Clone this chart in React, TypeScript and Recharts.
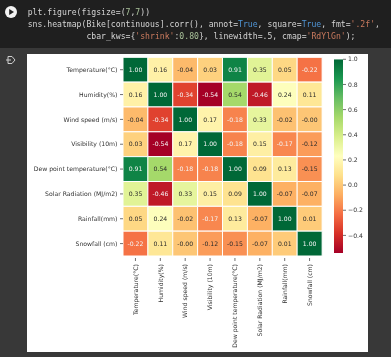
import React from 'react'
import { BarChart, Bar, Cell, XAxis, YAxis, LabelList } from 'recharts'

const labels = [
  'Temperature(°C)',
  'Humidity(%)',
  'Wind speed (m/s)',
  'Visibility (10m)',
  'Dew point temperature(°C)',
  'Solar Radiation (MJ/m2)',
  'Rainfall(mm)',
  'Snowfall (cm)',
]

// correlation rows, -0.004 prints as the "-0.00" of the picture
const temperature = [1.0, 0.16, -0.04, 0.03, 0.91, 0.35, 0.05, -0.22]
const humidity = [0.16, 1.0, -0.34, -0.54, 0.54, -0.46, 0.24, 0.11]
const windSpeed = [-0.04, -0.34, 1.0, 0.17, -0.18, 0.33, -0.02, -0.004]
const visibility = [0.03, -0.54, 0.17, 1.0, -0.18, 0.15, -0.17, -0.12]
const dewPoint = [0.91, 0.54, -0.18, -0.18, 1.0, 0.09, 0.13, -0.15]
const solar = [0.35, -0.46, 0.33, 0.15, 0.09, 1.0, -0.07, -0.07]
const rainfall = [0.05, 0.24, -0.02, -0.17, 0.13, -0.07, 1.0, 0.01]
const snowfall = [-0.22, 0.11, -0.004, -0.12, -0.15, -0.07, 0.01, 1.0]
const rows = [temperature, humidity, windSpeed, visibility, dewPoint, solar, rainfall, snowfall]

const rowTicks = [0.5, 1.5, 2.5, 3.5, 4.5, 5.5, 6.5, 7.5]
const cbarTicks = [1.0, 0.8, 0.6, 0.4, 0.2, 0.0, -0.2, -0.4]
const vMin = -0.54
const vMax = 1

const rdYlGn = ['#a50026', '#d73027', '#f46d43', '#fdae61', '#fee08b', '#ffffbf', '#d9ef8b', '#a6d96a', '#66bd63', '#1a9850', '#006837']

const hexToRgb = (hex: string) => [1, 3, 5].map((i) => parseInt(hex.slice(i, i + 2), 16))

const colorFor = (v: number) => {
  const t = Math.min(1, Math.max(0, (v - vMin) / (vMax - vMin))) * 10
  const i = Math.min(9, Math.floor(t))
  const a = hexToRgb(rdYlGn[i])
  const b = hexToRgb(rdYlGn[i + 1])
  const c = a.map((x, k) => Math.round(x + (b[k] - x) * (t - i)))
  return `rgb(${c.join(',')})`
}

const textFor = (v: number) => (v >= 0.8 || v <= -0.16 ? '#f4f4f4' : '#2b2b2b')

// one stacked column per variable, every cell is one unit tall
const tableData = labels.map((name, col) => {
  const entry: Record<string, number | string> = { name }
  rows.forEach((_, r) => {
    entry[`r${r}`] = 1
  })
  return { ...entry, col }
})

const cbarData = [{ name: 'cbar', range: [vMin, vMax] }]

const FONT = '"DejaVu Sans", sans-serif'
const INK = '#333'
const FS = 6.15

const ColumnTick = (props: any) => {
  const { x, y, payload } = props
  return (
    <g transform={`translate(${x},${y})`}>
      <line x1={0} y1={0} x2={0} y2={3} stroke={INK} strokeWidth={0.7} />
      <text transform="rotate(-90)" x={-6} y={0} dy={2.2} textAnchor="end" fontSize={FS} fontFamily={FONT} fill={INK}>
        {payload.value}
      </text>
    </g>
  )
}

const RowTick = (props: any) => {
  const { y, payload } = props
  return (
    <g transform={`translate(123,${y})`}>
      <line x1={-3} y1={0} x2={0} y2={0} stroke={INK} strokeWidth={0.7} />
      <text x={-5.5} y={0} dy={2.2} textAnchor="end" fontSize={FS} fontFamily={FONT} fill={INK}>
        {labels[Math.floor(payload.value)]}
      </text>
    </g>
  )
}

const CellLabel = (r: number) => (props: any) => {
  const { x, y, width, height, index } = props
  const v = rows[r][index]
  return (
    <text x={x + width / 2} y={y + height / 2} dy={2.2} textAnchor="middle" fontSize={FS} fontFamily={FONT} fill={textFor(v)}>
      {v.toFixed(2)}
    </text>
  )
}

const codeLine = { position: 'absolute', left: 27.7, whiteSpace: 'pre', fontFamily: '"DejaVu Sans Mono", monospace', fontSize: 8.13, lineHeight: '12px', color: '#d4d4d4' } as React.CSSProperties
const blue = { color: '#4f94d4' }
const str = { color: '#c97a5e' }
const num = { color: '#a9c29a' }

export default function App() {
  return (
    <div style={{ position: 'fixed', left: 0, top: 0, width: 391, height: 357, background: '#383838', overflow: 'hidden', filter: 'blur(0.4px)' }}>
      <div style={{ position: 'absolute', left: 0, top: 0, width: 391, height: 48, background: '#1f1f1f' }} />
      <div style={{ ...codeLine, top: 6 }}>plt.figure(figsize=(<span style={num}>7</span>,<span style={num}>7</span>))</div>
      <div style={{ ...codeLine, top: 18 }}>
        sns.heatmap(Bike[continuous].corr(), annot=<span style={blue}>True</span>, square=<span style={blue}>True</span>, fmt=<span style={str}>'.2f'</span>,
      </div>
      <div style={{ ...codeLine, top: 30 }}>
        {'            cbar_kws={'}<span style={str}>'shrink'</span>:<span style={num}>0.80</span>{'}, linewidth=.5, cmap='}<span style={str}>'RdYlGn'</span>);
      </div>
      <svg width={391} height={80} style={{ position: 'absolute', left: 0, top: 0 }}>
        <circle cx={11} cy={12} r={6} fill="#f2f2f2" />
        <path d="M9.2 9 L14 12 L9.2 15 Z" fill="#222" />
        <path d="M8 56.5 H12 L15 60 L12 63.5 H8 Z M6 60 H11" fill="none" stroke="#cfcfcf" strokeWidth={1} />
      </svg>
      <div style={{ position: 'absolute', left: 27, top: 54, width: 341, height: 298, background: '#fff' }} />

      <div style={{ position: 'absolute', left: 0, top: 0 }}>
        <BarChart width={391} height={357} data={tableData} margin={{ top: 57.3, right: 69, bottom: 0, left: 0 }} barCategoryGap={0}>
          <XAxis dataKey="name" interval={0} height={101} axisLine={false} tickLine={false} tickSize={0} tick={<ColumnTick />} />
          <YAxis
            type="number"
            width={123}
            domain={[0, 8]}
            reversed
            ticks={rowTicks}
            interval={0}
            axisLine={false}
            tickLine={false}
            tick={<RowTick />}
          />
          {rows.map((row, r) => (
            <Bar key={r} dataKey={`r${r}`} stackId="heat" isAnimationActive={false} stroke="#fff" strokeWidth={1}>
              {row.map((v, c) => (
                <Cell key={c} fill={colorFor(v)} />
              ))}
              <LabelList content={CellLabel(r)} />
            </Bar>
          ))}
        </BarChart>
      </div>

      <div style={{ position: 'absolute', left: 334.3, top: 49 }}>
        <BarChart width={50} height={215} data={cbarData} margin={{ top: 10.3, right: 0, bottom: 11, left: 0 }} barCategoryGap={0}>
          <defs>
            <linearGradient id="cbarFill" x1="0" y1="0" x2="0" y2="1">
              {rdYlGn.map((c, i) => (
                <stop key={c} offset={`${100 - i * 10}%`} stopColor={c} />
              )).reverse()}
            </linearGradient>
          </defs>
          <XAxis dataKey="name" hide />
          <YAxis
            type="number"
            orientation="right"
            width={41}
            domain={[vMin, vMax]}
            ticks={cbarTicks}
            interval={0}
            allowDataOverflow
            axisLine={false}
            tickSize={3}
            tickLine={{ stroke: INK, strokeWidth: 0.7 }}
            tickFormatter={(t: number) => t.toFixed(1).replace('-', '\u2212')}
            tick={{ fontSize: FS, fontFamily: FONT, fill: INK }}
          />
          <Bar dataKey="range" fill="url(#cbarFill)" isAnimationActive={false} />
        </BarChart>
      </div>
    </div>
  )
}
